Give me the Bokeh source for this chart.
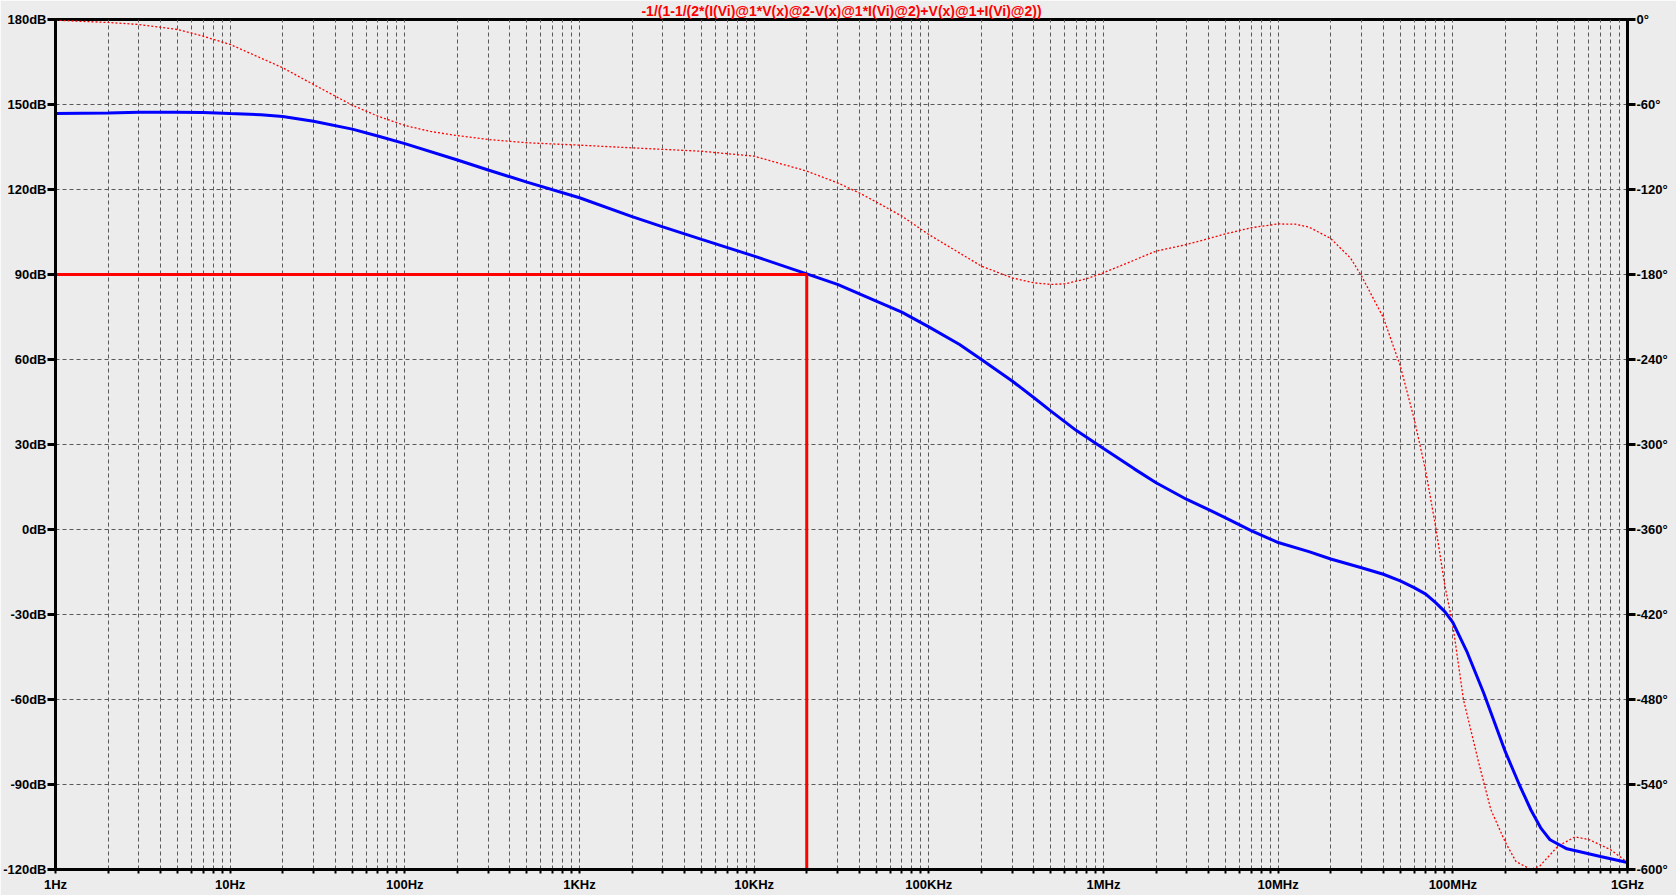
from bokeh.plotting import figure
from bokeh.models import Range1d, LinearAxis, FixedTicker
from bokeh.embed import file_html
from bokeh.resources import INLINE

# ---------------- data ----------------
title_text = "-1/(1-1/(2*(I(Vi)@1*V(x)@2-V(x)@1*I(Vi)@2)+V(x)@1+I(Vi)@2))"

mag_freq = [1, 2, 3, 5, 7, 10, 15, 20, 30, 50, 70, 100, 200, 300, 500,
            1e3, 2e3, 3e3, 5e3, 1e4, 2e4, 3e4, 5e4, 7e4, 1e5, 1.5e5, 2e5,
            3e5, 4e5, 5e5, 7e5, 1e6, 1.5e6, 2e6, 3e6, 4e6, 5e6, 7e6, 1e7,
            1.5e7, 2e7, 3e7, 4e7, 5e7, 6e7, 7e7, 8e7, 9e7, 1e8, 1.2e8,
            1.5e8, 2e8, 2.4e8, 2.8e8, 3.2e8, 3.6e8, 4.5e8, 7e8, 1e9]
mag_db = [146.8, 147.0, 147.3, 147.3, 147.2, 146.8, 146.4, 145.8, 144.1,
          141.3, 138.9, 136.2, 130.4, 126.9, 122.6, 117.1, 110.4, 106.8,
          102.4, 96.5, 90.2, 86.5, 80.6, 76.7, 71.5, 65.3, 60.0, 52.4, 46.5,
          41.8, 34.9, 28.6, 21.4, 16.5, 10.6, 7.0, 4.1, -0.4, -4.6, -7.8,
          -10.4, -13.5, -15.8, -18.1, -20.5, -22.8, -25.9, -29.0, -32.8,
          -42.9, -57.6, -78.5, -90.0, -99.0, -105.5, -109.5, -112.7,
          -115.4, -117.5]

ph_freq = [1, 2, 3, 5, 7, 10, 20, 30, 50, 70, 100, 140, 200, 300, 500,
           1e3, 2e3, 5e3, 1e4, 2e4, 3e4, 4e4, 5.3e4, 7e4, 1e5, 2e5, 3e5,
           4e5, 5e5, 6e5, 8e5, 1e6, 2e6, 3e6, 4e6, 5e6, 7e6, 1e7, 1.25e7,
           1.5e7, 2e7, 2.6e7, 3e7, 4e7, 5e7, 6e7, 7e7, 8e7, 9e7, 1e8,
           1.15e8, 1.4e8, 1.65e8, 2e8, 2.3e8, 2.8e8, 3.15e8, 4e8, 5e8,
           6e8, 8e8, 1e9]
ph_deg = [-0.5, -2.1, -3.5, -7.1, -11.8, -17.6, -34.1, -45.9, -60.5, -68.2,
          -74.8, -79.0, -82.0, -84.7, -87.0, -88.7, -90.6, -93.0, -96.5,
          -107.0, -115.3, -122.4, -130.5, -138.8, -151.8, -174.1, -182.4,
          -185.9, -187.0, -186.6, -183.0, -178.8, -163.5, -158.8, -154.6,
          -151.3, -147.0, -144.3, -144.5, -146.5, -154.6, -168.5, -181.0,
          -210.4, -244.5, -281.7, -318.9, -359.2, -399.5, -427.4, -480.0,
          -523.6, -557.7, -580.9, -594.4, -600.0, -597.5, -583.5, -577.0,
          -578.8, -586.0, -595.0]

marker_freq = 20000
marker_db = 90

x_decades = [1, 10, 100, 1000, 10000, 100000, 1000000, 10000000,
             100000000, 1000000000]
x_labels = ["1Hz", "10Hz", "100Hz", "1KHz", "10KHz", "100KHz", "1MHz",
            "10MHz", "100MHz", "1GHz"]
x_minor = [m * d for d in x_decades[:-1] for m in range(2, 10)]

db_ticks = [-120, -90, -60, -30, 0, 30, 60, 90, 120, 150, 180]
deg_ticks = [-600, -540, -480, -420, -360, -300, -240, -180, -120, -60, 0]

# ---------------- figure ----------------
BG = "#ECECEC"
GRID = "#5A5A5A"
FONT = "Liberation Sans"

p = figure(width=1676, height=895, x_axis_type="log",
           x_range=Range1d(x_decades[0], x_decades[-1]),
           y_range=Range1d(db_ticks[0], db_ticks[-1]),
           output_backend="svg", toolbar_location=None,
           min_border_left=54, min_border_right=49,
           min_border_top=18, min_border_bottom=26,
           background_fill_color=BG, border_fill_color=BG)
p.outline_line_color = "black"
p.outline_line_width = 3

# title
p.title.text = title_text
p.title.align = "center"
p.title.text_color = "#FF0000"
p.title.text_font = FONT
p.title.text_font_style = "bold"
p.title.text_font_size = "14px"
p.title.standoff = 1
p.title.offset = 0

p.extra_y_ranges = {"phase": Range1d(deg_ticks[0], deg_ticks[-1])}

# x axis
xa = p.xaxis[0]
xa.ticker = FixedTicker(ticks=x_decades, minor_ticks=x_minor)
xa.major_label_overrides = {d: l for d, l in zip(x_decades, x_labels)}
xa.axis_line_width = 3
xa.major_tick_out = 4
xa.major_tick_in = 0
xa.minor_tick_out = 4
xa.minor_tick_in = 0
xa.major_tick_line_width = 2
xa.minor_tick_line_width = 2
xa.major_label_standoff = 3

# left axis
ya = p.yaxis[0]
ya.ticker = FixedTicker(ticks=db_ticks)
ya.major_label_overrides = {t: f"{t}dB" for t in db_ticks}
ya.axis_line_width = 3
ya.major_tick_out = 8
ya.major_tick_in = 0
ya.minor_tick_out = 0
ya.minor_tick_in = 0
ya.major_tick_line_width = 3
ya.major_label_standoff = 1

# right axis
ra = LinearAxis(y_range_name="phase", ticker=FixedTicker(ticks=deg_ticks))
ra.major_label_overrides = {t: f"{t}°" for t in deg_ticks}
ra.axis_line_width = 3
ra.major_tick_out = 8
ra.major_tick_in = 0
ra.minor_tick_out = 0
ra.minor_tick_in = 0
ra.major_tick_line_width = 3
ra.major_label_standoff = 1
p.add_layout(ra, "right")

for ax in (xa, ya, ra):
    ax.major_label_text_font = FONT
    ax.major_label_text_font_style = "bold"
    ax.major_label_text_font_size = "13px"
    ax.major_label_text_color = "black"
    ax.axis_line_color = "black"
    ax.major_tick_line_color = "black"
    ax.minor_tick_line_color = "black"

# grids
p.xgrid.grid_line_color = GRID
p.xgrid.grid_line_dash = "4 3"
p.xgrid.grid_line_width = 1
p.xgrid.minor_grid_line_color = GRID
p.xgrid.minor_grid_line_dash = "4 3"
p.xgrid.minor_grid_line_width = 1
p.ygrid.grid_line_color = GRID
p.ygrid.grid_line_dash = "4 3"
p.ygrid.grid_line_width = 1

# traces
p.line(ph_freq, ph_deg, y_range_name="phase", line_color="#FF0000",
       line_width=1.3, line_dash="2 2")
p.line(mag_freq, mag_db, line_color="#0000FF", line_width=3)

# cursor lines
p.line([x_decades[0], marker_freq], [marker_db, marker_db],
       line_color="#FF0000", line_width=3)
p.line([marker_freq, marker_freq], [marker_db, db_ticks[0]],
       line_color="#FF0000", line_width=3)

open("out.html", "w").write(file_html(p, INLINE))
